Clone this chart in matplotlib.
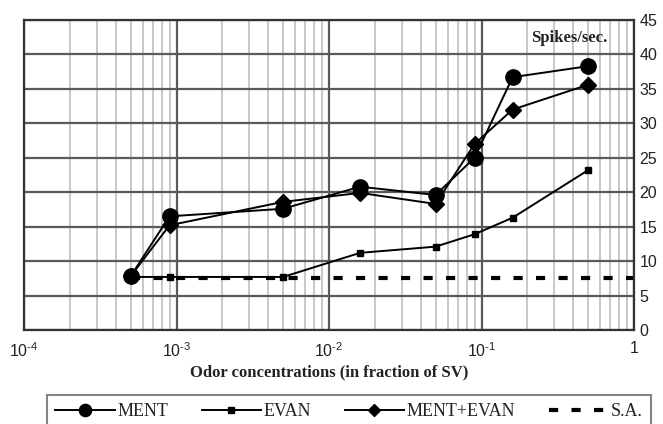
import matplotlib
matplotlib.use("Agg")
import matplotlib.pyplot as plt
from matplotlib.ticker import FixedLocator, LogLocator, NullFormatter

plt.rcParams['mathtext.fontset'] = 'custom'
plt.rcParams['mathtext.rm'] = 'Liberation Sans'
plt.rcParams['mathtext.it'] = 'Liberation Sans'

# Data
conc = [5e-4, 9e-4, 5e-3, 1.6e-2, 5e-2, 9e-2, 1.6e-1, 5e-1]
ment = [7.8, 16.5, 17.6, 20.8, 19.6, 25.0, 36.7, 38.3]
evan = [7.7, 7.7, 7.7, 11.2, 12.1, 13.9, 16.3, 23.2]
ment_evan = [7.8, 15.2, 18.6, 19.9, 18.3, 27.0, 32.0, 35.6]
sa_x = [5e-4, 1.0]
sa_level = 7.6

xticks = [1e-4, 1e-3, 1e-2, 1e-1, 1]
xticklabels = [r'$10^{\text{-}4}$', r'$10^{\text{-}3}$', r'$10^{\text{-}2}$',
               r'$10^{\text{-}1}$', '1']
yticks = list(range(0, 50, 5))

fig = plt.figure(figsize=(6.63, 4.24), dpi=100)
ax = fig.add_axes([24/663, 1 - 330/424, 610/663, 310/424])

ax.set_xscale('log')
ax.set_xlim(1e-4, 1)
ax.set_ylim(0, 45)

# grid
ax.xaxis.set_major_locator(FixedLocator(xticks))
ax.xaxis.set_minor_locator(LogLocator(base=10, subs=range(2, 10)))
ax.xaxis.set_minor_formatter(NullFormatter())
ax.set_xticks(xticks)
ax.set_xticklabels(xticklabels)
ax.set_yticks(yticks)
ax.grid(True, which='major', axis='both', color='#5a5a5a', lw=1.6, zorder=0)
ax.grid(True, which='minor', axis='x', color='#c4c4c4', lw=1.3, zorder=0)
ax.set_axisbelow(True)

ax.yaxis.tick_right()
ax.tick_params(axis='both', which='both', length=0)
ax.tick_params(axis='y', pad=4, labelsize=11.5)
ax.tick_params(axis='x', pad=8, labelsize=11.5)
for lab in ax.get_yticklabels() + ax.get_xticklabels():
    lab.set_fontfamily('Liberation Sans')
    lab.set_color('#222222')

for sp in ax.spines.values():
    sp.set_color('#333333')
    sp.set_linewidth(1.6)

# series
ax.plot(sa_x, [sa_level, sa_level], color='black', lw=3, dashes=(2.2, 3.2),
        label='S.A.', zorder=2)
ax.plot(conc, evan, color='black', lw=1.4, marker='s', ms=5, label='EVAN', zorder=3)
ax.plot(conc, ment_evan, color='black', lw=1.4, marker='D', ms=8, label='MENT+EVAN', zorder=4)
ax.plot(conc, ment, color='black', lw=1.4, marker='o', ms=11, label='MENT', zorder=5)

ax.text(607/663, 1 - 38/424, 'Spikes/sec.', transform=fig.transFigure,
        ha='right', va='center', fontsize=12, fontweight='bold',
        family='Liberation Serif', color='#222222')

ax.set_xlabel('Odor concentrations (in fraction of SV)', fontsize=12,
              fontweight='bold', family='Liberation Serif', labelpad=3,
              color='#222222')

handles, labels = ax.get_legend_handles_labels()
order = [3, 1, 2, 0]
leg = fig.legend([handles[i] for i in order], [labels[i] for i in order],
                 loc='upper left',
                 bbox_to_anchor=(47/663, 1 - 395/424, (651-47)/663, 0.0),
                 mode='expand', ncol=4, frameon=True, fancybox=False,
                 prop={'family': 'Liberation Serif', 'size': 13},
                 handlelength=3.3, handletextpad=0.15, borderpad=0.45,
                 borderaxespad=0.0,
                 markerscale=0.8, columnspacing=1.2)
leg.get_frame().set_edgecolor('#666666')
leg.get_frame().set_linewidth(1.5)
for t in leg.get_texts():
    t.set_color('#222222')

fig.savefig('out.png', dpi=100)
